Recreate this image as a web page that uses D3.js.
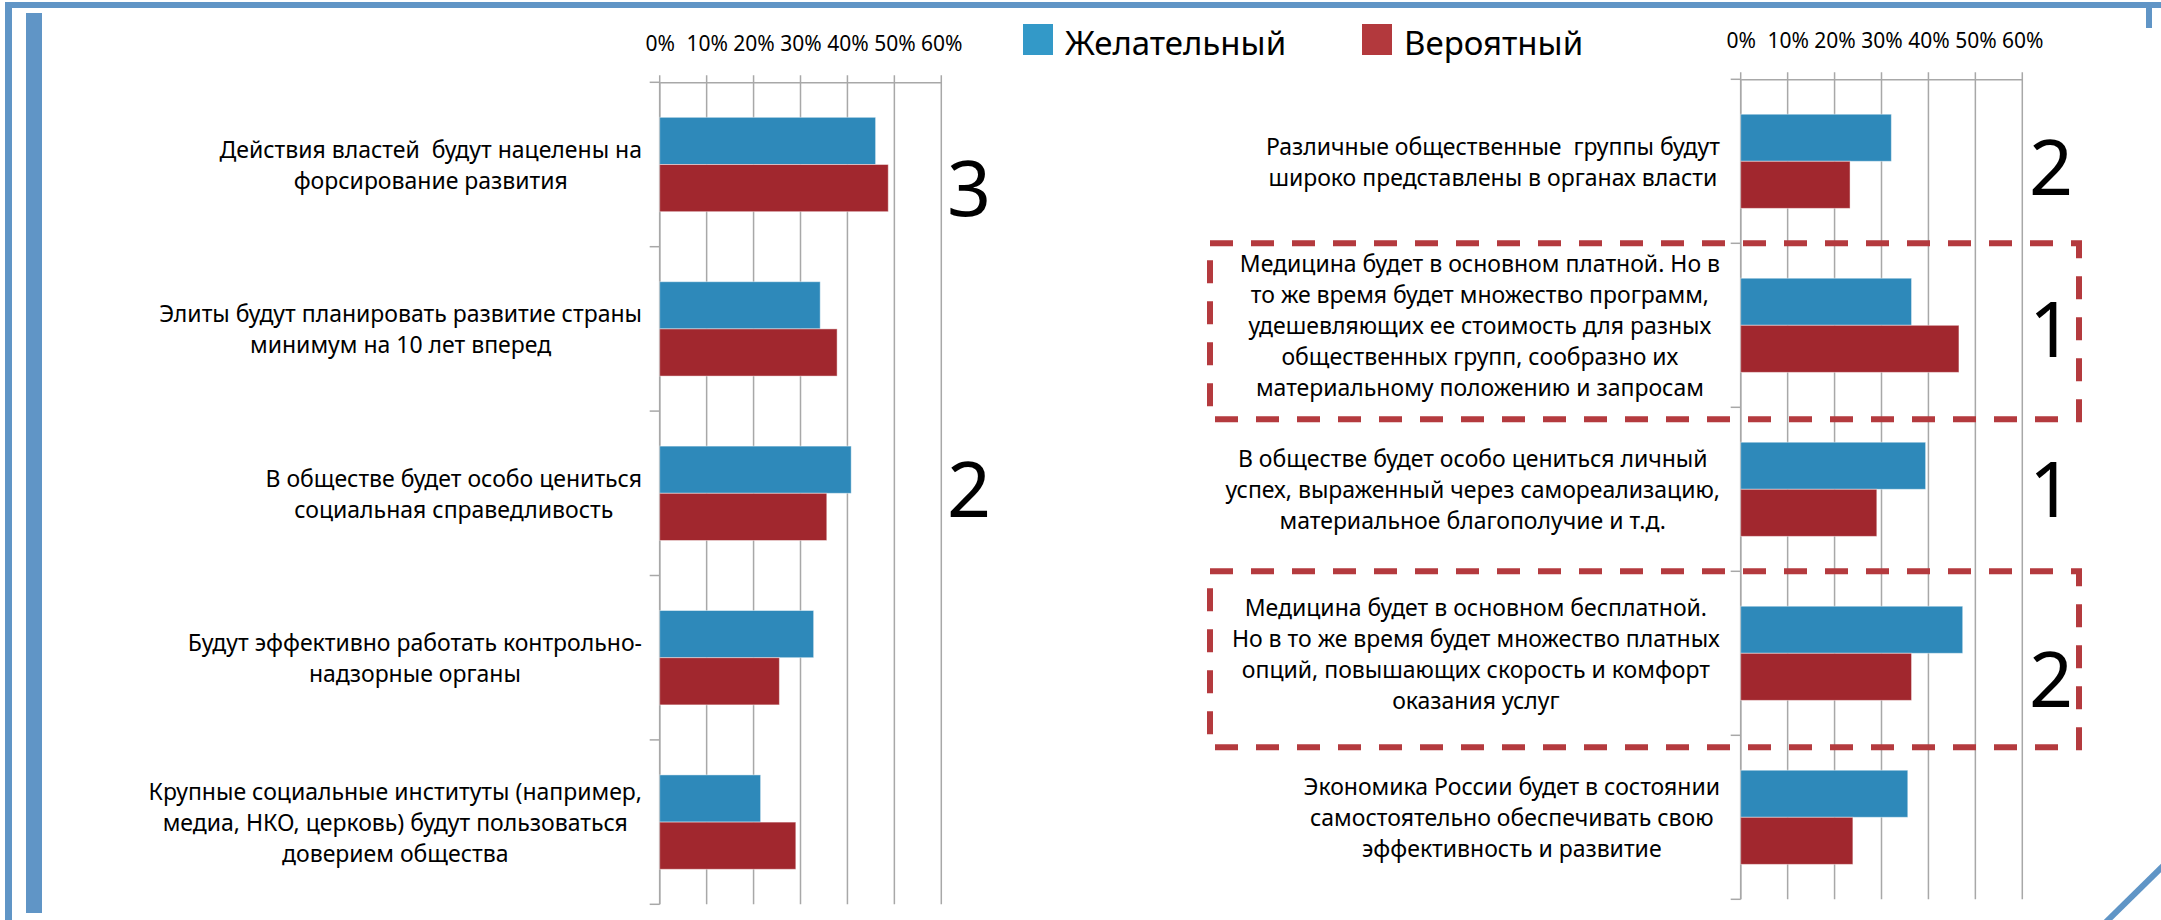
<!DOCTYPE html>
<html>
<head>
<meta charset="utf-8">
<script src="https://cdn.jsdelivr.net/npm/d3@7"></script>
<style>
  html, body { margin: 0; padding: 0; background: #fff; }
  svg { display: block; font-family: 'Noto Sans', 'Open Sans', sans-serif; }
  .cat-label { white-space: pre; }
</style>
</head>
<body>
<svg id="chart" width="2161" height="920"></svg>
<script>
// --- data ---
const series = ['Желательный', 'Вероятный']
const tickValues = [0, 10, 20, 30, 40, 50, 60]

const leftCategories = [
  ['Действия властей  будут нацелены на', 'форсирование развития'],
  ['Элиты будут планировать развитие страны', 'минимум на 10 лет вперед'],
  ['В обществе будет особо цениться', 'социальная справедливость'],
  ['Будут эффективно работать контрольно-', 'надзорные органы'],
  ['Крупные социальные институты (например,', 'медиа, НКО, церковь) будут пользоваться', 'доверием общества'],
]
const leftWanted = [46.0, 34.2, 40.8, 32.8, 21.5]
const leftLikely = [48.7, 37.8, 35.6, 25.5, 29.0]
const leftRanks = [{ cat: 0, text: '3' }, { cat: 2, text: '2' }]

const rightCategories = [
  ['Различные общественные  группы будут', 'широко представлены в органах власти'],
  ['Медицина будет в основном платной. Но в', 'то же время будет множество программ,', 'удешевляющих ее стоимость для разных', 'общественных групп, сообразно их', 'материальному положению и запросам'],
  ['В обществе будет особо цениться личный', 'успех, выраженный через самореализацию,', 'материальное благополучие и т.д.'],
  ['Медицина будет в основном бесплатной.', 'Но в то же время будет множество платных', 'опций, повышающих скорость и комфорт', 'оказания услуг'],
  ['Экономика России будет в состоянии', 'самостоятельно обеспечивать свою', 'эффективность и развитие'],
]
const rightWanted = [32.1, 36.4, 39.4, 47.3, 35.6]
const rightLikely = [23.3, 46.5, 29.0, 36.4, 23.9]
const rightRanks = [{ cat: 0, text: '2' }, { cat: 1, text: '1' }, { cat: 2, text: '1' }, { cat: 3, text: '2' }]
const rightHighlighted = [1, 3]

// --- style ---
const barColors = ['#2e89ba', '#a1272e']
const legendColors = ['#3399c8', '#b3393d']
const gridColor = '#a8a8a8'
const frameColor = '#6095c6'
const dashColor = '#b43a3e'

const svg = d3.select('#chart')
svg.append('rect').attr('width', 2161).attr('height', 920).attr('fill', '#fff')

// frame decoration
svg.append('rect').attr('x', 5).attr('y', 2).attr('width', 2156).attr('height', 6).attr('fill', frameColor)
svg.append('rect').attr('x', 5).attr('y', 2).attr('width', 7).attr('height', 918).attr('fill', frameColor)
svg.append('rect').attr('x', 26).attr('y', 13).attr('width', 16).attr('height', 900).attr('fill', frameColor)
svg.append('rect').attr('x', 2146).attr('y', 2).attr('width', 6).attr('height', 26).attr('fill', frameColor)
svg.append('line').attr('x1', 2166).attr('y1', 863).attr('x2', 2104).attr('y2', 924)
  .attr('stroke', frameColor).attr('stroke-width', 6)

function drawPanel({ categories, wanted, likely, ranks, rankOffsets, highlighted = [], layout }) {
  const { x0, x1, top, bottom, labelRight, rankX } = layout
  const idx = d3.range(categories.length)

  const x = d3.scaleLinear().domain([0, 60]).range([x0, x1])
  const y = d3.scaleBand().domain(idx).range([top, bottom])
  const sub = d3.scaleBand().domain(series).range([0, y.bandwidth()]).paddingOuter(0.742)

  const g = svg.append('g')

  // gridlines
  g.selectAll('line.grid')
    .data(tickValues)
    .enter()
    .append('line')
    .attr('class', 'grid')
    .attr('x1', (d) => x(d)).attr('x2', (d) => x(d))
    .attr('y1', top - 7).attr('y2', bottom)
    .attr('stroke', gridColor).attr('stroke-width', 1.5)

  // x axis on top
  const xAxis = g.append('g')
    .attr('transform', `translate(0, ${top})`)
    .call(d3.axisTop(x).tickValues(tickValues).tickFormat((d) => d + '%').tickSize(0).tickPadding(31))
  xAxis.select('.domain').attr('stroke', gridColor).attr('stroke-width', 1.5)
  xAxis.selectAll('text')
    .attr('font-family', "'Noto Sans', sans-serif")
    .attr('font-size', 21)
    .attr('fill', '#000')

  // y axis with ticks between categories
  g.append('line')
    .attr('x1', x0).attr('x2', x0).attr('y1', top).attr('y2', bottom)
    .attr('stroke', gridColor).attr('stroke-width', 1.5)
  g.selectAll('line.ytick')
    .data(d3.range(categories.length + 1))
    .enter()
    .append('line')
    .attr('class', 'ytick')
    .attr('x1', x0 - 10).attr('x2', x0)
    .attr('y1', (d) => top + d * y.step()).attr('y2', (d) => top + d * y.step())
    .attr('stroke', gridColor).attr('stroke-width', 1.5)

  // bars
  const rows = idx.map((i) => [
    { cat: i, s: series[0], v: wanted[i] },
    { cat: i, s: series[1], v: likely[i] },
  ])
  g.selectAll('g.row')
    .data(rows)
    .enter()
    .append('g')
    .attr('class', 'row')
    .attr('transform', (d, i) => `translate(0, ${y(i)})`)
    .selectAll('rect')
    .data((d) => d)
    .enter()
    .append('rect')
    .attr('x', x0)
    .attr('y', (d) => sub(d.s))
    .attr('width', (d) => x(d.v) - x0)
    .attr('height', sub.bandwidth())
    .attr('fill', (d, i) => barColors[i])
    .attr('stroke', 'rgba(255,255,255,0.45)')
    .attr('stroke-width', 1)

  // category labels, centred lines, block right-aligned to the axis
  const lineH = 31
  categories.forEach((lines, i) => {
    const t = g.append('text')
      .attr('class', 'cat-label')
      .attr('font-size', 23)
      .attr('text-anchor', 'middle')
      .attr('fill', '#000')
    const cy = y(i) + y.bandwidth() / 2
    const firstDy = -((lines.length - 1) * lineH) / 2
    lines.forEach((line, k) => {
      t.append('tspan')
        .attr('x', 0)
        .attr('y', cy + firstDy + k * lineH)
        .attr('dominant-baseline', 'central')
        .text(line)
    })
    const w = t.node().getBBox().width
    t.attr('transform', `translate(${labelRight - w / 2}, 0)`)
  })

  // highlight boxes
  highlighted.forEach((i) => {
    g.append('rect')
      .attr('x', layout.boxLeft)
      .attr('y', y(i))
      .attr('width', layout.boxRight - layout.boxLeft)
      .attr('height', y.step() + 12)
      .attr('fill', 'none')
      .attr('stroke', dashColor)
      .attr('stroke-width', 6)
      .attr('stroke-dasharray', '23 18')
  })

  // rank digits
  ranks.forEach((r, k) => {
    g.append('text')
      .attr('x', rankX)
      .attr('y', y(r.cat) + y.bandwidth() / 2 + rankOffsets[k])
      .attr('text-anchor', 'middle')
      .attr('dominant-baseline', 'central')
      .attr('font-size', 77)
      .attr('fill', '#000')
      .text(r.text)
  })
}

drawPanel({
  categories: leftCategories,
  wanted: leftWanted,
  likely: leftLikely,
  ranks: leftRanks,
  rankOffsets: [22, -6],
  layout: { x0: 659.7, x1: 941.3, top: 82.3, bottom: 904.3, labelRight: 642, rankX: 969 },
})

drawPanel({
  categories: rightCategories,
  wanted: rightWanted,
  likely: rightLikely,
  ranks: rightRanks,
  rankOffsets: [4, 2, -2, 24],
  highlighted: rightHighlighted,
  layout: { x0: 1740.7, x1: 2022.3, top: 79.3, bottom: 899.3, labelRight: 1720, rankX: 2051, boxLeft: 1210, boxRight: 2079 },
})

// legend
const legend = svg.append('g')
const legendX = [1023, 1362]
series.forEach((s, i) => {
  legend.append('rect')
    .attr('x', legendX[i]).attr('y', 24)
    .attr('width', 30).attr('height', 31)
    .attr('fill', legendColors[i])
  legend.append('text')
    .attr('x', legendX[i] + 42).attr('y', 55)
    .attr('font-size', 33)
    .attr('fill', '#000')
    .text(s)
})
</script>
</body>
</html>
